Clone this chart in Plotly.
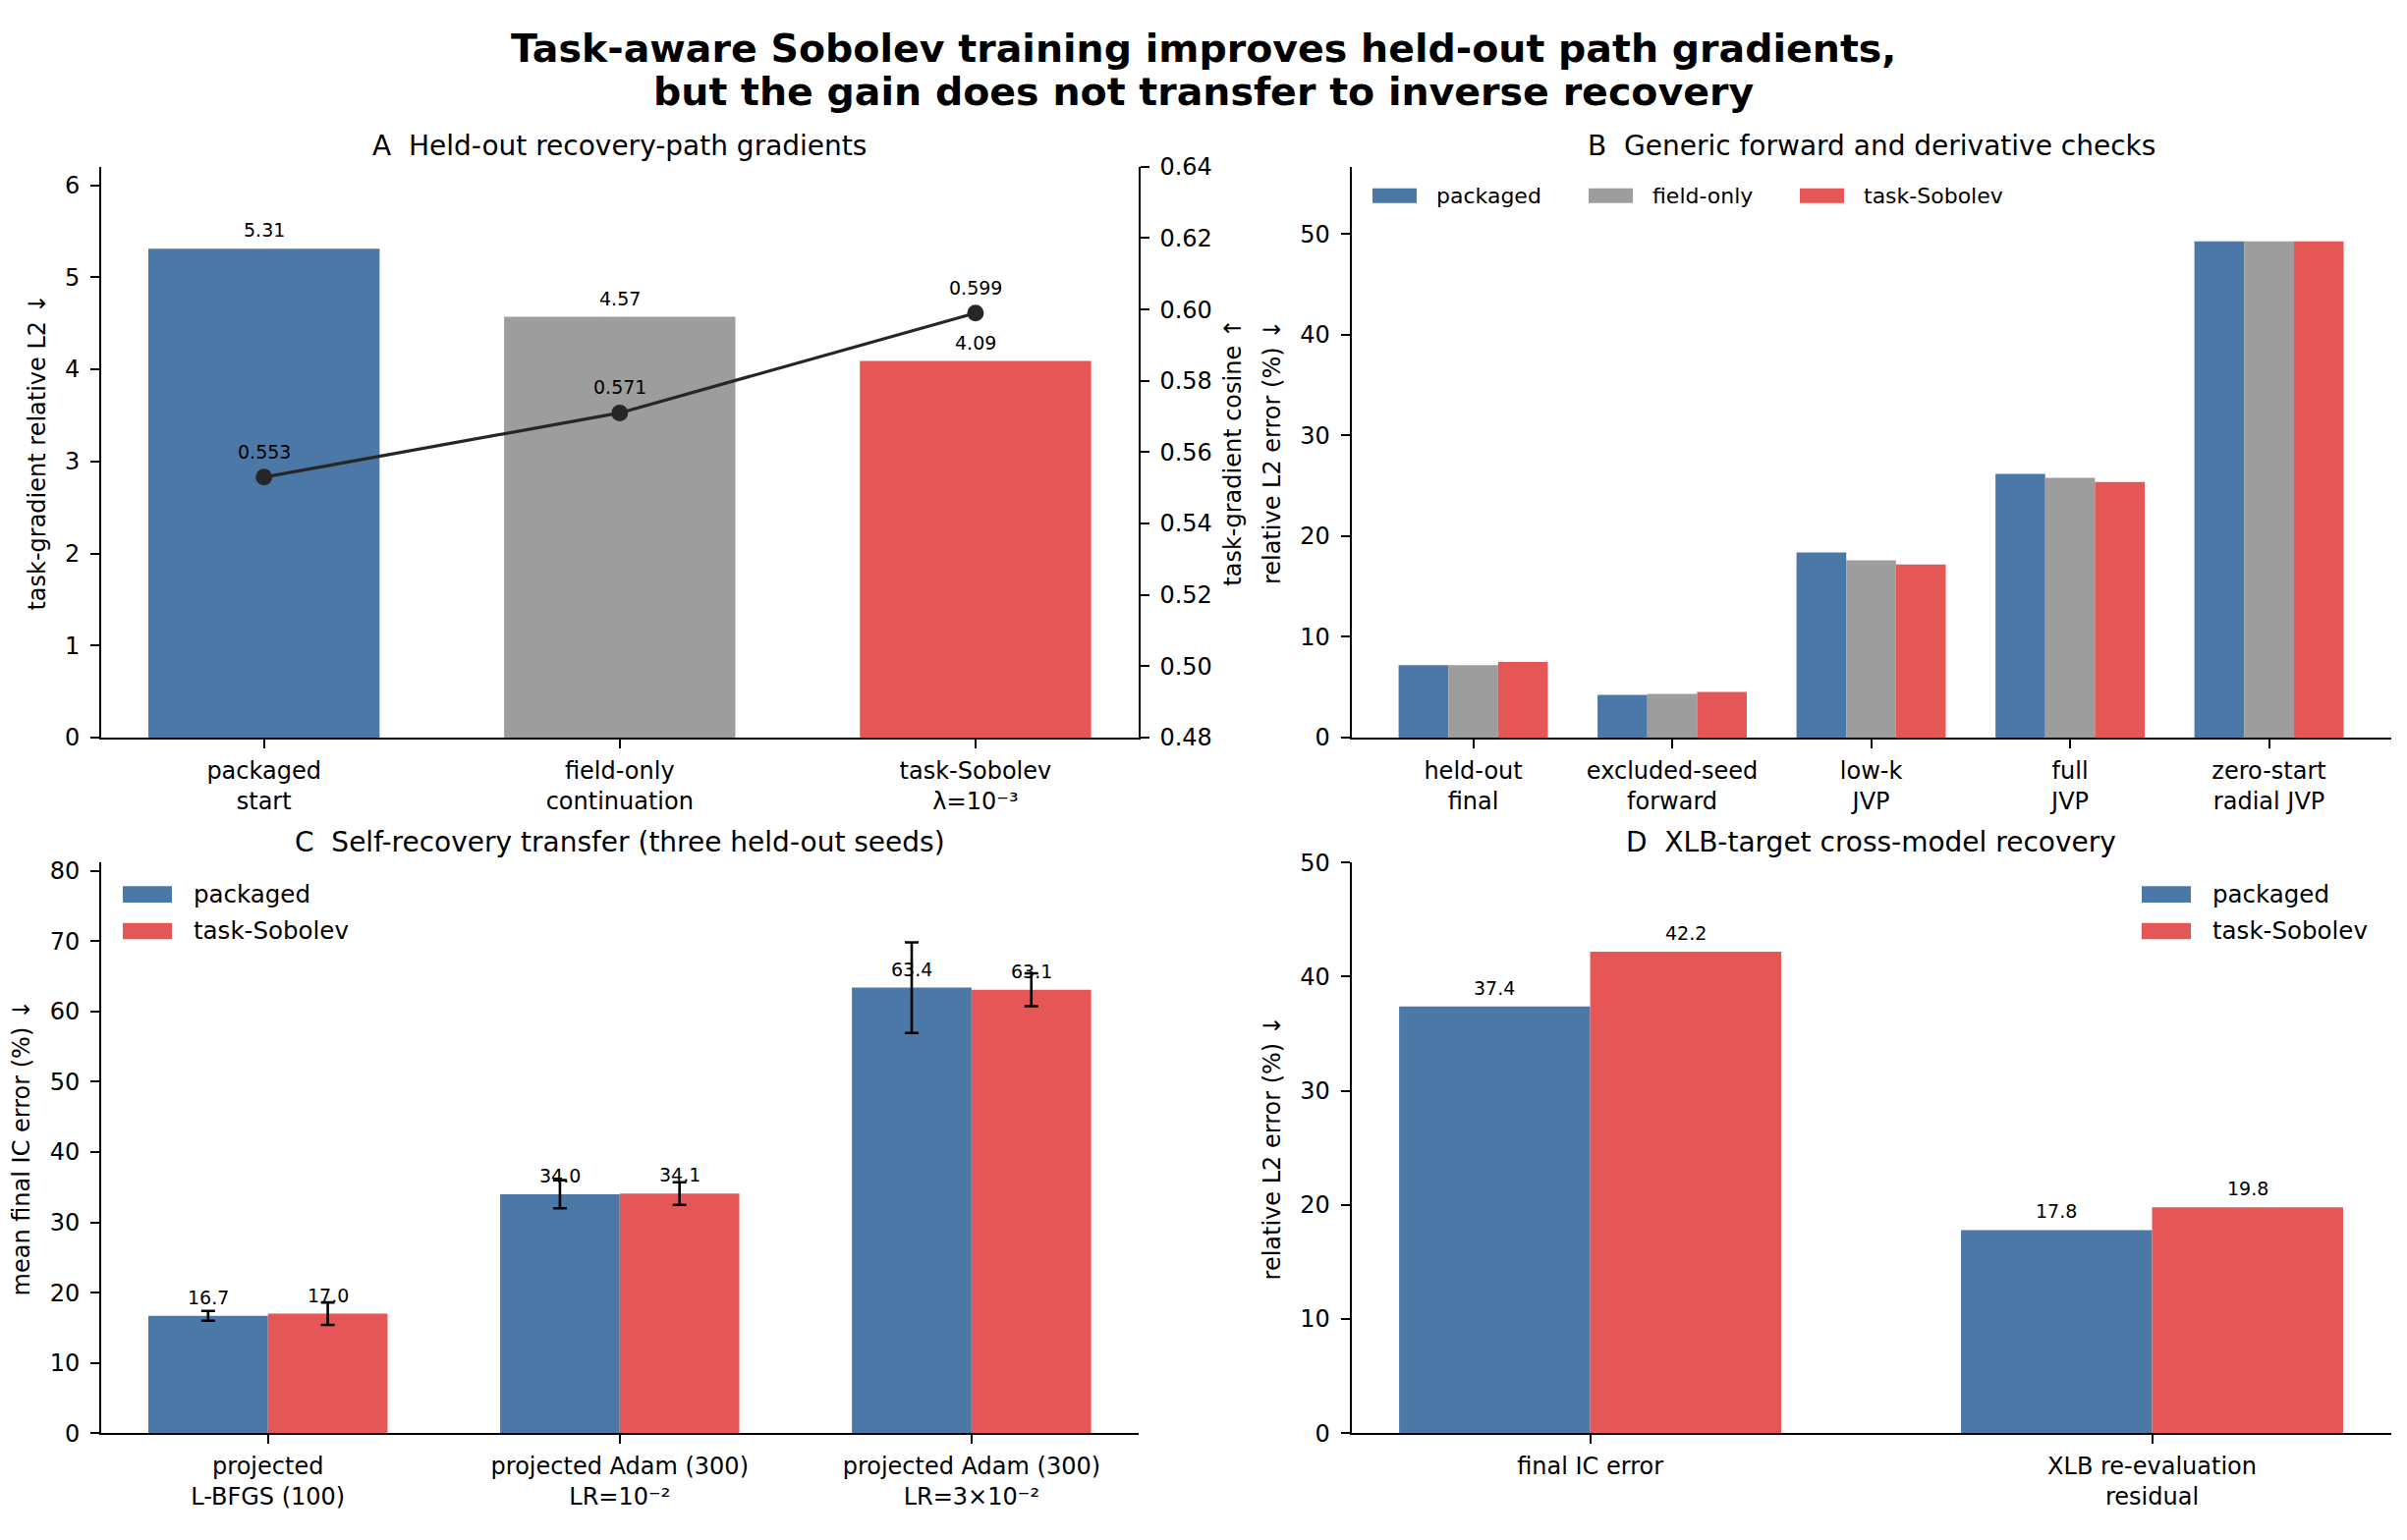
import plotly.graph_objects as go

# page is 2450x1568; the html body keeps its default 8px margin, so the figure
# itself is 16px smaller and everything below is measured in page pixels
PAGE_W, PAGE_H = 2450, 1568
OFF = 8
W, H = PAGE_W - 2 * OFF, PAGE_H - 2 * OFF

BLUE = "#4c78a8"
GRAY = "#9d9d9d"
RED = "#e45756"
FONT = "DejaVu Sans"

# Panel A: held-out recovery-path gradients
a_labels = ["packaged<br>start", "field-only<br>continuation", "task-Sobolev<br>λ=10⁻³"]
a_rel_l2 = [5.31, 4.57, 4.09]
a_cosine = [0.553, 0.571, 0.599]
a_colors = [BLUE, GRAY, RED]

# Panel B: generic forward and derivative checks (relative L2 error, %)
b_labels = ["held-out<br>final", "excluded-seed<br>forward", "low-k<br>JVP", "full<br>JVP", "zero-start<br>radial JVP"]
b_packaged = [7.2, 4.25, 18.4, 26.2, 49.3]
b_field_only = [7.2, 4.33, 17.6, 25.8, 49.3]
b_task_sobolev = [7.5, 4.54, 17.2, 25.4, 49.3]

# Panel C: self-recovery transfer, mean over three held-out seeds
c_labels = ["projected<br>L-BFGS (100)", "projected Adam (300)<br>LR=10⁻²", "projected Adam (300)<br>LR=3×10⁻²"]
c_packaged = [16.7, 34.0, 63.4]
c_packaged_err = [0.7, 2.0, 6.45]
c_task_sobolev = [17.0, 34.1, 63.1]
c_task_sobolev_err = [1.6, 1.6, 2.35]

# Panel D: XLB-target cross-model recovery
d_labels = ["final IC error", "XLB re-evaluation<br>residual"]
d_packaged = [37.4, 17.8]
d_task_sobolev = [42.2, 19.8]


def px(x):
    return (x - OFF) / W


def py(y):
    return 1 - (y - OFF) / H


XA = [px(103), px(1158.6)]
XB = [px(1375.5), px(2433.6)]
YT = [py(750.4), py(158.5)]
YB = [py(1471.6), py(880)]

fig = go.Figure()

# --- A ---
fig.add_trace(go.Bar(x=list(range(len(a_rel_l2))), y=a_rel_l2, width=0.65,
                     marker=dict(color=a_colors, line_width=0),
                     xaxis="x", yaxis="y", showlegend=False))
fig.add_trace(go.Scatter(x=list(range(len(a_cosine))), y=a_cosine, mode="lines+markers",
                         line=dict(color="#262626", width=3.2),
                         marker=dict(size=17, color="#262626"),
                         xaxis="x", yaxis="y5", showlegend=False))

annotations = []
for i, v in enumerate(a_rel_l2):
    annotations.append(dict(x=i, y=v, xref="x", yref="y", text=f"{v:.2f}", showarrow=False,
                            xanchor="center", yanchor="bottom", yshift=6, font=dict(size=19)))
for i, v in enumerate(a_cosine):
    annotations.append(dict(x=i, y=v, xref="x", yref="y5", text=f"{v:.3f}", showarrow=False,
                            xanchor="center", yanchor="bottom", yshift=13, font=dict(size=19)))

# --- B ---
b_series = [("packaged", b_packaged, BLUE), ("field-only", b_field_only, GRAY),
            ("task-Sobolev", b_task_sobolev, RED)]
bw = 0.25
for k, (name, vals, col) in enumerate(b_series):
    fig.add_trace(go.Bar(x=list(range(len(vals))), y=vals, width=bw, offset=-1.5 * bw + k * bw,
                         marker=dict(color=col, line_width=0), name=name,
                         xaxis="x2", yaxis="y2", showlegend=False))

# --- C and D ---
cw = 0.34
for k, (name, vals, err, col) in enumerate([("packaged", c_packaged, c_packaged_err, BLUE),
                                             ("task-Sobolev", c_task_sobolev, c_task_sobolev_err, RED)]):
    fig.add_trace(go.Bar(x=list(range(len(vals))), y=vals, width=cw, offset=-cw + k * cw,
                         marker=dict(color=col, line_width=0), name=name,
                         error_y=dict(type="data", array=err, color="black", thickness=2.6, width=7),
                         xaxis="x3", yaxis="y3", showlegend=False))
    for i, v in enumerate(vals):
        annotations.append(dict(x=i - cw + k * cw + cw / 2, y=v, xref="x3", yref="y3",
                                text=f"{v:.1f}", showarrow=False, xanchor="center",
                                yanchor="bottom", yshift=6, font=dict(size=19)))

for k, (name, vals, col) in enumerate([("packaged", d_packaged, BLUE),
                                        ("task-Sobolev", d_task_sobolev, RED)]):
    fig.add_trace(go.Bar(x=list(range(len(vals))), y=vals, width=cw, offset=-cw + k * cw,
                         marker=dict(color=col, line_width=0), name=name,
                         xaxis="x4", yaxis="y4", showlegend=False))
    for i, v in enumerate(vals):
        annotations.append(dict(x=i - cw + k * cw + cw / 2, y=v, xref="x4", yref="y4",
                                text=f"{v:.1f}", showarrow=False, xanchor="center",
                                yanchor="bottom", yshift=6, font=dict(size=19)))

# titles
for txt, yc in [("<b>Task-aware Sobolev training improves held-out path gradients,</b>", 36),
                ("<b>but the gain does not transfer to inverse recovery</b>", 80)]:
    annotations.append(dict(x=px(PAGE_W / 2), y=py(yc), xref="paper", yref="paper",
                            showarrow=False, text=txt, font=dict(size=39.5),
                            xanchor="center", yanchor="middle"))
for txt, xd, yc in [("A  Held-out recovery-path gradients", XA, 137),
                    ("B  Generic forward and derivative checks", XB, 137),
                    ("C  Self-recovery transfer (three held-out seeds)", XA, 858.5),
                    ("D  XLB-target cross-model recovery", XB, 858.5)]:
    annotations.append(dict(x=(xd[0] + xd[1]) / 2, y=py(yc), xref="paper", yref="paper",
                            showarrow=False, text=txt, font=dict(size=28),
                            xanchor="center", yanchor="middle"))

# hand-drawn legends (matplotlib-style wide patches)
shapes = []


def legend_entry(x0, yc, w, h, col, label, size):
    shapes.append(dict(type="rect", xref="paper", yref="paper", x0=px(x0), x1=px(x0 + w),
                       y0=py(yc + h / 2), y1=py(yc - h / 2), fillcolor=col, line_width=0))
    annotations.append(dict(x=px(x0 + w + 0.8 * size), y=py(yc), xref="paper", yref="paper",
                            text=label, showarrow=False, xanchor="left", yanchor="middle",
                            font=dict(size=size)))


for x0, (name, _, col) in zip([1397, 1617, 1832], b_series):
    legend_entry(x0, 188.5, 45, 15.5, col, name, 22)
for yc, name, col in [(913, "packaged", BLUE), (951, "task-Sobolev", RED)]:
    legend_entry(125, yc, 50, 17, col, name, 24.5)
    legend_entry(2180, yc, 50, 17, col, name, 24.5)

axis_common = dict(showline=True, linecolor="black", linewidth=2, ticks="outside", ticklen=9,
                   tickwidth=1.8, tickcolor="black", showgrid=False, zeroline=False,
                   tickfont=dict(size=24))
xcommon = dict(axis_common, ticklabelstandoff=2)
ycommon = dict(axis_common, ticklabelstandoff=6)
ytitle = dict(font=dict(size=24), standoff=13)

fig.update_layout(
    width=W, height=H, margin=dict(l=0, r=0, t=0, b=0),
    paper_bgcolor="white", plot_bgcolor="white", barmode="overlay",
    font=dict(family=FONT, color="black"),
    xaxis=dict(domain=XA, anchor="y", range=[-0.4575, 2.4575], tickvals=[0, 1, 2],
               ticktext=a_labels, **xcommon),
    yaxis=dict(domain=YT, anchor="x", range=[0, 6.2], dtick=1,
               title=dict(text="task-gradient relative L2 ↓", **ytitle), **ycommon),
    yaxis5=dict(overlaying="y", side="right", anchor="x", range=[0.48, 0.64], tick0=0.48,
                dtick=0.02, tickformat=".2f",
                title=dict(text="task-gradient cosine ↑", **ytitle), **ycommon),
    xaxis2=dict(domain=XB, anchor="y2", range=[-0.6125, 4.6125], tickvals=list(range(5)),
                ticktext=b_labels, **xcommon),
    yaxis2=dict(domain=YT, anchor="x2", range=[0, 56.7], dtick=10,
                title=dict(text="relative L2 error (%) ↓", **ytitle), **ycommon),
    xaxis3=dict(domain=XA, anchor="y3", range=[-0.474, 2.474], tickvals=[0, 1, 2],
                ticktext=c_labels, **xcommon),
    yaxis3=dict(domain=YB, anchor="x3", range=[0, 81.2], dtick=10,
                title=dict(text="mean final IC error (%) ↓", **ytitle), **ycommon),
    xaxis4=dict(domain=XB, anchor="y4", range=[-0.425, 1.425], tickvals=[0, 1],
                ticktext=d_labels, **xcommon),
    yaxis4=dict(domain=YB, anchor="x4", range=[0, 50], dtick=10,
                title=dict(text="relative L2 error (%) ↓", **ytitle), **ycommon),
    annotations=annotations,
    shapes=shapes,
)

fig.write_html("out.html")
